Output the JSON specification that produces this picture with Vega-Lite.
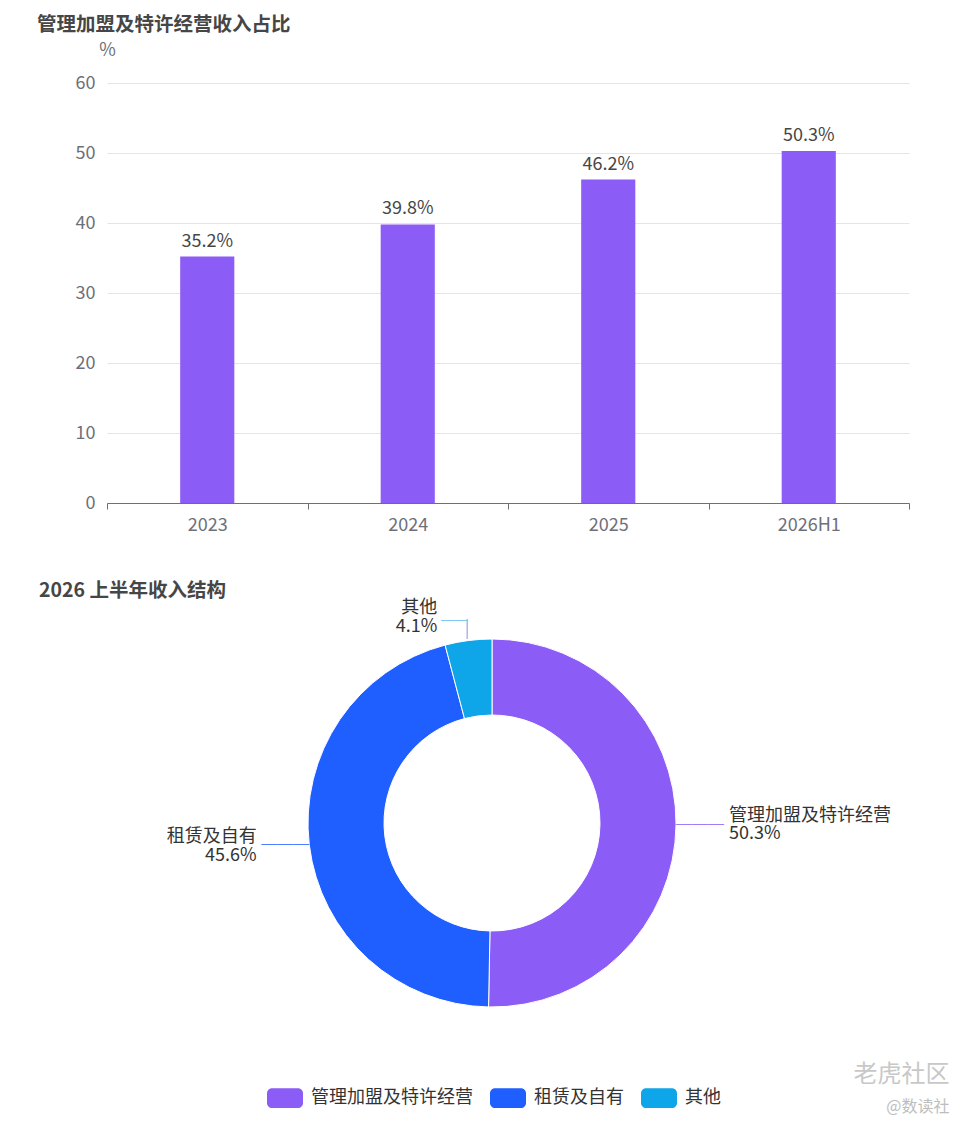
{
  "$schema": "https://vega.github.io/schema/vega-lite/v6.json",
  "description": "Management/franchise revenue share and H1 2026 revenue structure",
  "background": "white",
  "padding": {"left": 37, "top": 14, "right": 5, "bottom": 5},
  "title": {
    "text": "老虎社区",
    "subtitle": "@数读社",
    "orient": "bottom",
    "anchor": "end",
    "frame": "bounds",
    "offset": -45,
    "dx": 40,
    "color": "#c8c8c8",
    "fontSize": 24,
    "fontWeight": "normal",
    "subtitleColor": "#bdbdbd",
    "subtitleFontSize": 16,
    "subtitlePadding": 12
  },
  "config": {
    "font": "Noto Sans CJK SC",
    "view": {"stroke": null},
    "concat": {"spacing": 30},
    "locale": {
      "number": {"decimal": ".", "thousands": ",", "grouping": [3], "currency": ["", "%"]}
    }
  },
  "vconcat": [
    {
      "title": {
        "text": "管理加盟及特许经营收入占比",
        "anchor": "start",
        "frame": "bounds",
        "dx": -38,
        "offset": 6,
        "fontSize": 19.5,
        "fontWeight": "bold",
        "color": "#464646"
      },
      "width": 802,
      "height": 420,
      "data": {
        "values": [
          {"period": "2023", "share": 35.2},
          {"period": "2024", "share": 39.8},
          {"period": "2025", "share": 46.2},
          {"period": "2026H1", "share": 50.3}
        ]
      },
      "encoding": {
        "x": {
          "field": "period",
          "type": "nominal",
          "sort": null,
          "scale": {"paddingInner": 0, "paddingOuter": 0},
          "axis": {
            "title": null,
            "labelAngle": 0,
            "labelFontSize": 18,
            "labelColor": "#6E7079",
            "labelPadding": 7,
            "tickBand": "extent",
            "tickSize": 6,
            "tickColor": "#6E7079",
            "domainColor": "#6E7079",
            "grid": false
          }
        },
        "y": {
          "field": "share",
          "type": "quantitative",
          "scale": {"domain": [0, 60]},
          "axis": {
            "title": "%",
            "titleAngle": 0,
            "titleX": 0,
            "titleY": -24,
            "titleAlign": "center",
            "titleBaseline": "bottom",
            "titleFontWeight": "normal",
            "titleFontSize": 18,
            "titleColor": "#6E7079",
            "values": [0, 10, 20, 30, 40, 50, 60],
            "labelFontSize": 18,
            "labelColor": "#6E7079",
            "labelPadding": 12,
            "ticks": false,
            "domain": false,
            "gridColor": "#E0E6F1"
          }
        }
      },
      "layer": [
        {"mark": {"type": "bar", "color": "#8B5CF6", "width": {"band": 0.27}}},
        {
          "mark": {"type": "text", "baseline": "bottom", "dy": -6, "fontSize": 18, "color": "#464646"},
          "encoding": {"text": {"field": "share", "type": "quantitative", "format": "$.1f"}}
        }
      ]
    },
    {
      "title": {
        "text": "2026 上半年收入结构",
        "anchor": "start",
        "frame": "group",
        "dx": -68,
        "offset": -37,
        "fontSize": 19.5,
        "fontWeight": "bold",
        "color": "#464646"
      },
      "width": 770,
      "height": 436,
      "data": {
        "values": [
          {"segment": "管理加盟及特许经营", "pct": 50.3},
          {"segment": "租赁及自有", "pct": 45.6},
          {"segment": "其他", "pct": 4.1}
        ]
      },
      "encoding": {
        "theta": {"field": "pct", "type": "quantitative", "stack": true},
        "order": {"field": "pct", "type": "quantitative", "sort": "descending"},
        "color": {
          "field": "segment",
          "type": "nominal",
          "sort": ["管理加盟及特许经营", "租赁及自有", "其他"],
          "scale": {
            "domain": ["管理加盟及特许经营", "租赁及自有", "其他"],
            "range": ["#8B5CF6", "#1F5EFF", "#0EA5E9"]
          },
          "legend": {
            "title": null,
            "orient": "none",
            "direction": "horizontal",
            "legendX": 160,
            "legendY": 997,
            "symbolType": "M-0.72,-0.55 L0.72,-0.55 A0.28,0.28 0 0 1 1,-0.27 L1,0.27 A0.28,0.28 0 0 1 0.72,0.55 L-0.72,0.55 A0.28,0.28 0 0 1 -1,0.27 L-1,-0.27 A0.28,0.28 0 0 1 -0.72,-0.55 Z",
            "symbolSize": 1296,
            "symbolStrokeWidth": 0,
            "symbolOpacity": 1,
            "labelFontSize": 18,
            "labelColor": "#333333",
            "labelLimit": 400,
            "labelOffset": 8,
            "columnPadding": 17
          }
        }
      },
      "layer": [
        {"mark": {"type": "arc", "innerRadius": 108, "outerRadius": 184, "stroke": "white", "strokeWidth": 1}},
        {
          "mark": {"type": "text", "radius": 237, "align": "left", "baseline": "middle", "dy": -9, "fontSize": 18},
          "encoding": {"color": {"value": "#333333"}, "text": {"condition": {"test": "datum.segment === '管理加盟及特许经营'", "field": "segment"}, "value": ""}}
        },
        {
          "mark": {"type": "text", "radius": 237, "align": "left", "baseline": "middle", "dy": 9, "fontSize": 18},
          "encoding": {"color": {"value": "#333333"}, "text": {"condition": {"test": "datum.segment === '管理加盟及特许经营'", "field": "pct", "type": "quantitative", "format": "$.1f"}, "value": ""}}
        },
        {
          "mark": {"type": "text", "radius": 184, "align": "left", "baseline": "middle", "fontSize": 16},
          "encoding": {"color": {"value": "#8B5CF6"}, "text": {"condition": {"test": "datum.segment === '管理加盟及特许经营'", "value": "───"}, "value": ""}}
        },
        {
          "mark": {"type": "text", "radius": 237, "align": "right", "baseline": "middle", "dy": -14, "fontSize": 18},
          "encoding": {"color": {"value": "#333333"}, "text": {"condition": {"test": "datum.segment === '租赁及自有'", "field": "segment"}, "value": ""}}
        },
        {
          "mark": {"type": "text", "radius": 237, "align": "right", "baseline": "middle", "dy": 5, "fontSize": 18},
          "encoding": {"color": {"value": "#333333"}, "text": {"condition": {"test": "datum.segment === '租赁及自有'", "field": "pct", "type": "quantitative", "format": "$.1f"}, "value": ""}}
        },
        {
          "mark": {"type": "text", "radius": 184, "align": "right", "baseline": "middle", "fontSize": 16},
          "encoding": {"color": {"value": "#1F5EFF"}, "text": {"condition": {"test": "datum.segment === '租赁及自有'", "value": "───"}, "value": ""}}
        },
        {
          "mark": {"type": "text", "radius": 208, "align": "right", "baseline": "middle", "dx": -28, "dy": -9, "fontSize": 18},
          "encoding": {"color": {"value": "#333333"}, "text": {"condition": {"test": "datum.segment === '其他'", "field": "segment"}, "value": ""}}
        },
        {
          "mark": {"type": "text", "radius": 208, "align": "right", "baseline": "middle", "dx": -28, "dy": 10, "fontSize": 18},
          "encoding": {"color": {"value": "#333333"}, "text": {"condition": {"test": "datum.segment === '其他'", "field": "pct", "type": "quantitative", "format": "$.1f"}, "value": ""}}
        },
        {
          "mark": {"type": "text", "radius": 194, "align": "center", "baseline": "middle", "fontSize": 20},
          "encoding": {"color": {"value": "#0EA5E9"}, "text": {"condition": {"test": "datum.segment === '其他'", "value": "│"}, "value": ""}}
        },
        {
          "mark": {"type": "text", "radius": 204, "align": "right", "baseline": "middle", "dx": 1, "fontSize": 13},
          "encoding": {"color": {"value": "#0EA5E9"}, "text": {"condition": {"test": "datum.segment === '其他'", "value": "──"}, "value": ""}}
        }
      ]
    }
  ]
}
